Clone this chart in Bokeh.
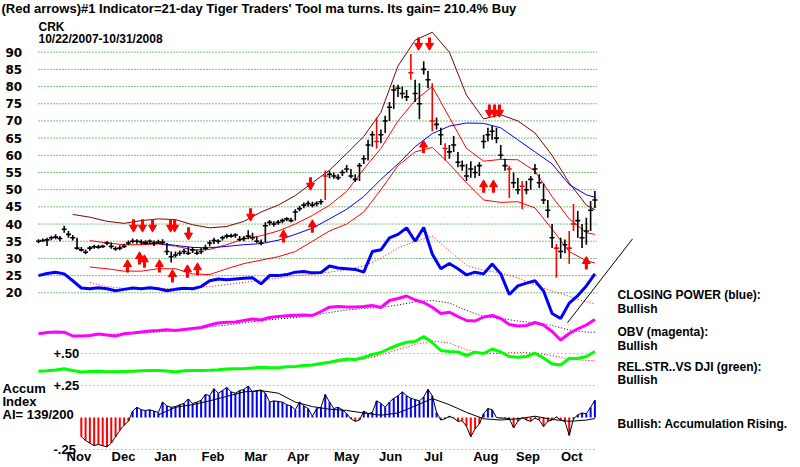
from bokeh.plotting import figure
from bokeh.models import Range1d, Label
from bokeh.embed import file_html
from bokeh.resources import INLINE

nan = float("nan")

# ---------------- data ----------------
# price bars: one bar every 2 trading days, day index 0..260
bar_days = list(range(0, 261, 2))
close = [35, 35.2, 35.4, 36, 36.2, 35.8, 38.5, 37, 36, 33,
         32.5, 31.8, 33, 33.4, 33.3, 33.5, 34.5, 33.5, 32.8, 33,
         33.5, 34.5, 35, 35, 34.8, 34.6, 35, 34.5, 34.8, 34.7,
         32, 30.5, 31, 31.5, 32, 31.5, 32.5, 31.5, 32, 33,
         34.5, 35.2, 35, 36, 36.5, 36.5, 36.8, 35.5, 35.8, 36.5,
         36, 35, 34.5, 39.5, 40.5, 40, 40.5, 41, 41.5, 41,
         43.5, 44.5, 45.5, 46, 45.5, 46, 46.5, 54, 54.5, 54,
         53.5, 55, 56, 54, 53, 57, 59, 63, 66, 64,
         66, 70, 74, 79, 79.5, 78, 77, 84, 78, 75,
         85, 82, 70, 69, 66, 62, 61, 63, 58, 57,
         54, 56, 55, 57, 64, 66, 67, 65, 60, 57,
         56, 52, 50, 51, 50, 53, 56, 52, 47, 44,
         36, 33, 32, 34, 33, 40, 41, 36, 38, 44,
         47]
high = [35.6, 35.8, 36, 36.6, 37, 36.5, 39.5, 38, 36.8, 36,
        33.3, 32.6, 33.6, 34, 34, 34, 35, 34.6, 33.5, 33.8,
        34.3, 35.2, 35.8, 35.6, 35.5, 35.3, 35.5, 35.2, 35.4, 35.6,
        34.5, 32, 32, 32.3, 32.8, 33.3, 33.3, 32.5, 33, 34,
        35.3, 36, 35.6, 36.6, 37.2, 37.2, 37.3, 36.5, 36.5, 38.2,
        37.5, 36.3, 35.5, 40.5, 41.2, 40.8, 41.2, 41.6, 42, 41.8,
        44.3, 45.3, 46.3, 46.8, 46.5, 46.6, 47.2, 55.6, 55.5, 55,
        54.5, 55.8, 57.2, 56, 54.5, 57.8, 60, 64.5, 67, 71,
        67.5, 71.5, 75.5, 80.5, 80.5, 80, 79, 89.5, 82, 81,
        87.4, 84.5, 81, 71, 68, 63.5, 63, 65.6, 61, 58.5,
        57.5, 58.3, 57, 58, 66, 68, 68.5, 68, 63, 59,
        57, 55, 53.4, 52.5, 52.5, 54, 57.5, 54.5, 51.7, 47,
        40, 34.2, 36, 35.5, 38, 45.8, 43.8, 40, 41.8, 46.7,
        49.6]
low = [34.4, 34.8, 33.6, 35.3, 35.6, 35, 37.5, 36, 35.2, 32.5,
       32, 31.2, 32.2, 32.8, 32.8, 33, 33.8, 32.8, 32.2, 32.4,
       33, 33.8, 34.4, 34.3, 34, 34, 34.2, 33.6, 34.2, 34,
       31, 28.8, 30.2, 30.8, 31.2, 31, 31.6, 31, 31.3, 32.3,
       33.5, 34.2, 34.3, 35.2, 35.8, 36, 36, 35, 35, 35.6,
       35.3, 34.5, 33.8, 34.8, 39.6, 39.3, 39.8, 40.2, 40.8, 40.5,
       41, 43.7, 44.6, 45, 44.8, 45.2, 45.6, 47, 53.3, 53.2,
       52.8, 54, 55, 53.3, 52.2, 52.5, 57.5, 58.5, 62.5, 62,
       63.5, 66.5, 70, 73.5, 77, 76.5, 75.8, 82, 75.5, 70.5,
       83.5, 79.5, 67, 67.5, 63, 58.5, 59, 61, 56.5, 55.5,
       52.5, 53.5, 53.4, 54, 62, 64, 64.5, 63.5, 59, 55.5,
       47.6, 50.5, 48.7, 44.4, 48.7, 50, 54.5, 50.5, 45.8, 41.8,
       33, 24.4, 30, 31.5, 28.4, 38, 36, 33, 34, 38,
       44.7]
signal_bars = [67, 79, 87, 92, 95, 110, 113, 121, 124, 125]  # bars drawn red

# bands and moving averages: one point every 8 trading days (+ last day)
band_days = list(range(0, 257, 8)) + [260]
upper_outer = [nan, nan, 42.8, 42, 40.8, 40.2, 41, 41.5, 41.3, 39.8, 38.9, 39.3, 40.8,
               43.5, 45.5, 48.3, 52, 55.7, 60.5, 65.5, 72.5, 86, 93.5, 95.8, 90, 77.5,
               70.6, 71.8, 70, 66.5, 60, 52, 45.5, 44.2]
upper_band = [nan, nan, nan, 35.2, 34.5, 34, 34, 34.2, 33.6, 32.5, 32.6, 34, 35.7,
              36.6, 38, 40, 42.5, 45.5, 49.5, 56, 62, 70, 76, 80, 71, 62,
              58.3, 58.8, 58.7, 55.4, 48, 41.5, 37.5, 37]
lower_band = [nan, nan, nan, 27.5, 27, 26.3, 26.3, 27, 27, 25.5, 25.3, 27, 28.5,
              29.5, 30.5, 32, 35, 38, 40, 43.5, 50, 57, 61, 62.3, 57.5, 52,
              47, 46.3, 46.5, 44.7, 38.5, 32, 29.3, 28.7]
price_ma = [nan, nan, nan, nan, nan, nan, 34.3, 34.4, 33.8, 33.2, 33.1, 33.5, 34,
            34.3, 35.3, 37, 38.8, 41.5, 44.3, 48, 53, 57.5, 62.5, 66.3, 68.5, 69.4,
            69.3, 68, 64.5, 61, 57.5, 51.5, 48.5, 47.8]

# indicators: one point every 4 trading days
ind_days = list(range(0, 261, 4))
closing_power = [25, 25.6, 26, 25.5, 23.5, 21.4, 21.2, 21.5, 21.2, 20.6,
                 21, 21.4, 21.2, 21.5, 21.2, 20.6, 21, 21.3, 21.2, 21.8,
                 23.5, 24, 23.8, 24, 24.2, 24.4, 22.6, 25, 25, 25.3,
                 26, 26.2, 25.8, 25.9, 27.8, 27.2, 27, 26.8, 26, 32,
                 32.5, 36, 37, 38.9, 35, 39, 31.3, 27, 28.5, 27,
                 25.2, 26, 25.5, 28.4, 25.5, 19.5, 22, 22.8, 23.5, 20.5,
                 14, 12.5, 17, 19.2, 22, 25.5]
cp_ma = [nan, nan, nan, 23, 21.8, 21.3, 21.2, 21.2, 21.3, 21.5, 21.8, 22.4, 23,
         23.7, 24.3, 25, 25.4, 26, 26.7, 27.8, 30, 33, 35, 36.5, 32.2, 28,
         26.5, 25.8, 24.3, 22.3, 20.5, 19, 17.3, 16.8]
obv = [6.7, 8, 8.5, 8.3, 4.5, 4.5, 5, 6.5, 5.5, 4.5,
       6.7, 7.5, 8.5, 9.5, 10, 10.7, 10, 11, 12, 13,
       15.5, 17.5, 18.3, 18.5, 20, 21.5, 20.5, 23, 24, 24.7,
       25.2, 25.5, 25, 29, 33.3, 34, 33.5, 33.5, 34, 35,
       33, 40, 42, 44.5, 40.5, 38, 33.3, 27, 28.3, 24,
       20, 19.5, 23.5, 25, 22, 16, 14.5, 15, 18, 15.5,
       9, 0.5, 7, 11.7, 15.5, 21]
obv_ma = [nan, nan, nan, 5.5, 6, 6.5, 7.5, 8.5, 10, 11.3, 13.5, 15.5, 17.5,
          20, 21.5, 23, 25, 28, 30.5, 32, 33, 35.5, 38.7, 40, 37.5, 30,
          24, 22, 19.5, 17.5, 15, 10.5, 8.3, 8.3]
rel_str = [4.3, 4.7, 5.5, 6.7, 5, 3.5, 4, 4.3, 3.7, 3.7,
           4, 4.3, 4.7, 5, 5, 4.5, 3.5, 4.7, 5, 5,
           5.3, 5.7, 6.5, 6.7, 6.7, 7.5, 8.3, 7.7, 7.7, 8.7,
           9, 10, 10.5, 12, 13.3, 15, 16.5, 16, 18, 21,
           23, 27, 30.5, 33.3, 34, 39, 33, 25, 24, 23.5,
           20, 23.3, 22, 26.5, 23.5, 19, 18.3, 19, 22.3, 17.5,
           11.5, 10.5, 17, 17, 19, 24]
rs_ma = [nan, nan, nan, 3.4, 3.6, 3.8, 4, 4.2, 4.4, 4.7, 5, 5.5, 6,
         7, 7.8, 8.8, 10.5, 12.5, 14.3, 16.5, 20.5, 26, 31, 34.5, 32.5, 25.5,
         22.2, 22.2, 23.2, 22.5, 20, 16.3, 15, 15]

# accumulation index: one bar every 2 trading days from day 20
acc_days = list(range(20, 261, 2))
accum = [-0.15, -0.18, -0.2, -0.22, -0.21, -0.22, -0.23, -0.2, -0.15, -0.1,
         -0.06, -0.03, 0.05, 0.08, 0.06, 0.055, 0.06, 0.05, 0.04, 0.12,
         0.09, 0.08, 0.085, 0.1, 0.11, 0.145, 0.11, 0.12, 0.135, 0.18,
         0.17, 0.225, 0.19, 0.21, 0.235, 0.2, 0.19, 0.21, 0.22, 0.245,
         0.2, 0.21, 0.215, 0.19, 0.12, 0.13, 0.125, 0.12, 0.1, 0.09,
         0.06, 0.12, 0.09, 0.07, 0.01, 0.07, 0.08, 0.18, 0.12, 0.07,
         0.08, 0.06, 0.03, -0.01, -0.03, -0.02, 0.05, 0.03, 0.04, 0.13,
         0.11, 0.08, 0.12, 0.15, 0.17, 0.2, 0.17, 0.15, 0.14, 0.13,
         0.16, 0.22, 0.17, 0.04, -0.02, -0.01, 0.01, -0.005, -0.03, -0.025,
         -0.07, -0.15, -0.09, -0.05, 0.03, 0.07, 0.06, 0.0, -0.005, -0.005,
         -0.01, -0.08, -0.03, 0.0, -0.02, -0.03, -0.005, -0.02, -0.07, -0.03,
         -0.02, 0.005, -0.02, -0.03, -0.14, -0.01, 0.02, 0.035, 0.03, 0.08,
         0.135]
acc_ma = [nan, nan, nan, nan, nan, nan, nan, 0.02, 0.08, 0.1, 0.13, 0.165, 0.2,
          0.21, 0.19, 0.12, 0.085, 0.065, 0.055, 0.035, 0.018, 0.035, 0.09, 0.148, 0.1, 0.04,
          -0.01, -0.02, -0.01, 0.01, -0.015, -0.03, -0.02, -0.008]

# closing-power trend line (day, value)
trend_days = [247.2, 277.6]
trend_vals = [11.3, 35.7]

# red arrows (day, tip price)
down_days = [44.4, 48.6, 53.3, 61.7, 63.6, 70.1, 99.1, 127.1, 177.6, 182.7, 210.7, 213.1, 215.4]
down_tips = [38, 38, 38, 38, 38, 35.7, 41.2, 50.2, 90.9, 90.9, 71.4, 71.4, 71.4]
up_days = [41.6, 47.2, 49.5, 56.5, 62.6, 69.6, 74.3, 114.5, 128.0, 179.9, 208, 212.6, 256]
up_tips = [29.3, 31.6, 30.7, 29.3, 26.4, 27.8, 28.4, 38, 40.9, 64.1, 52.5, 52.5, 30.2]

price_ticks = [20, 25, 30, 35, 40, 45, 50, 55, 60, 65, 70, 75, 80, 85, 90]
acc_ticks = [0.5, 0.25, -0.25]
month_names = ["Nov", "Dec", "Jan", "Feb", "Mar", "Apr", "May", "Jun", "Jul", "Aug", "Sep", "Oct"]
month_start_days = [8, 29, 49, 71, 91, 111, 133, 154, 175, 198, 218, 239]

title_text = "(Red arrows)#1 Indicator=21-day Tiger Traders' Tool ma turns. Its gain= 210.4% Buy"
symbol = "CRK"
date_span = "10/22/2007-10/31/2008"
right_notes = [("CLOSING POWER (blue):", 294), ("Bullish", 308),
               ("OBV (magenta):", 331), ("Bullish", 345),
               ("REL.STR..VS DJI (green):", 366), ("Bullish", 379),
               ("Bullish: Accumulation Rising.", 423)]
accum_notes = [("Accum", 388), ("Index", 401), ("AI= 139/200", 414)]

# ---------------- layout ----------------
W, H = 800, 467
PX_DAY = 2.14     # pixels per trading day
X0 = 38           # pixel of day 0
P90_PX, P20_PX = 51.7, 292.3
ppu = (P20_PX - P90_PX) / 70.0
y_top = 90 + P90_PX / ppu
y_bot = 90 - (H - P90_PX) / ppu

p = figure(width=W, height=H, x_range=Range1d(-X0 / PX_DAY, (W - X0) / PX_DAY),
           y_range=Range1d(y_bot, y_top), x_axis_type=None, y_axis_type=None,
           toolbar_location=None, output_backend="svg", min_border=0, title=None,
           outline_line_color=None, background_fill_color="white", border_fill_color="white")
p.extra_y_ranges = {"obv": Range1d(340 - H, 340), "rs": Range1d(375 - H, 375),
                    "acc": Range1d((417 - H) / 128.0, 417 / 128.0)}

# grid lines
p.segment(x0=[bar_days[0]] * len(price_ticks), x1=[bar_days[-1] + 1] * len(price_ticks),
          y0=price_ticks, y1=price_ticks, line_color="#008000", line_dash="1 2", line_width=1)
acc_cols = ["#C060C0", "#909090", "#C060C0"]
p.segment(x0=[acc_days[0]] * 3, x1=[acc_days[-1]] * 3, y0=acc_ticks, y1=acc_ticks,
          line_color=acc_cols, line_dash="1 3", line_width=1, y_range_name="acc")

# bands
p.line(band_days, upper_outer, line_color="#800000", line_width=1)
p.line(band_days, upper_band, line_color="#FF0000", line_width=1)
p.line(band_days, lower_band, line_color="#FF0000", line_width=1)
p.line(band_days, price_ma, line_color="#0000FF", line_width=1)

# price bars
bar_colors = ["#FF0000" if i in signal_bars else "#000000" for i in range(len(bar_days))]
p.segment(x0=bar_days, x1=bar_days, y0=low, y1=high, line_color=bar_colors, line_width=1.6)
p.scatter(bar_days, close, marker="dash", size=5, line_color=bar_colors, line_width=1.6)

# arrows
AL = 3.4   # arrow length in price units
p.segment(x0=down_days, x1=down_days, y0=[t + 1.2 for t in down_tips],
          y1=[t + AL for t in down_tips], line_color="#FF0000", line_width=3)
p.scatter(down_days, [t + 1.0 for t in down_tips], marker="inverted_triangle", size=8,
          fill_color="#FF0000", line_color="#FF0000")
p.segment(x0=up_days, x1=up_days, y0=[t - 1.2 for t in up_tips],
          y1=[t - AL for t in up_tips], line_color="#FF0000", line_width=3)
p.scatter(up_days, [t - 1.0 for t in up_tips], marker="triangle", size=8,
          fill_color="#FF0000", line_color="#FF0000")

# closing power
p.line(band_days, cp_ma, line_color="#FF0000", line_dash="1 2", line_width=1)
p.line(ind_days, closing_power, line_color="#0000FF", line_width=3)
p.line(trend_days, trend_vals, line_color="#000000", line_width=1)

# OBV
p.line(band_days, obv_ma, line_color="#000000", line_dash="1 2", line_width=1, y_range_name="obv")
p.line(ind_days, obv, line_color="#FF00FF", line_width=3, y_range_name="obv")

# relative strength
p.line(band_days, rs_ma, line_color="#FF0000", line_dash="1 2", line_width=1, y_range_name="rs")
p.line(ind_days, rel_str, line_color="#00FF00", line_width=3, y_range_name="rs")

# accumulation index
acc_colors = ["#0000FF" if v > 0.01 else ("#FF0000" if v < -0.01 else "#000000") for v in accum]
p.segment(x0=acc_days, x1=acc_days, y0=[0] * len(accum), y1=accum, line_color=acc_colors,
          line_width=2, y_range_name="acc")
p.line(acc_days, accum, line_color="#000000", line_width=1, y_range_name="acc")
p.line(band_days, acc_ma, line_color="#000000", line_width=1, y_range_name="acc")

# ---------------- texts ----------------
SANS = "Liberation Sans"


def note(txt, x, y_from_top, size=12, style="bold", font=SANS):
    p.add_layout(Label(x=x, y=H - y_from_top, x_units="screen", y_units="screen", text=txt,
                       text_font=font, text_font_size=f"{size}px", text_font_style=style,
                       text_baseline="middle", text_align="left", text_color="black"))


note(title_text, 1, 8, size=13, style="bold")
note(symbol, 38, 26)
note(date_span, 38, 38)
for txt, yy in right_notes:
    note(txt, 617, yy)
for txt, yy in accum_notes:
    note(txt, 2, yy, size=13)

for t in price_ticks:
    p.add_layout(Label(x=5, y=t, x_units="screen", y_units="data", text=str(t),
                       text_font="DejaVu Sans", text_font_size="12px", text_font_style="bold",
                       text_baseline="middle", text_align="left", text_color="black"))
for t in acc_ticks:
    s = ("+" if t > 0 else "-") + f"{abs(t):.2f}"[1:]
    p.add_layout(Label(x=53, y=t, x_units="screen", y_units="data", y_range_name="acc", text=s,
                       text_font=SANS, text_font_size="13px", text_font_style="bold",
                       text_baseline="middle", text_align="left", text_color="black"))
for name, d in zip(month_names, month_start_days):
    p.add_layout(Label(x=d, y=H - 456, x_units="data", y_units="screen", x_offset=11, text=name,
                       text_font=SANS, text_font_size="13px", text_font_style="bold",
                       text_baseline="middle", text_align="left", text_color="black"))

open("out.html", "w").write(file_html(p, INLINE))
